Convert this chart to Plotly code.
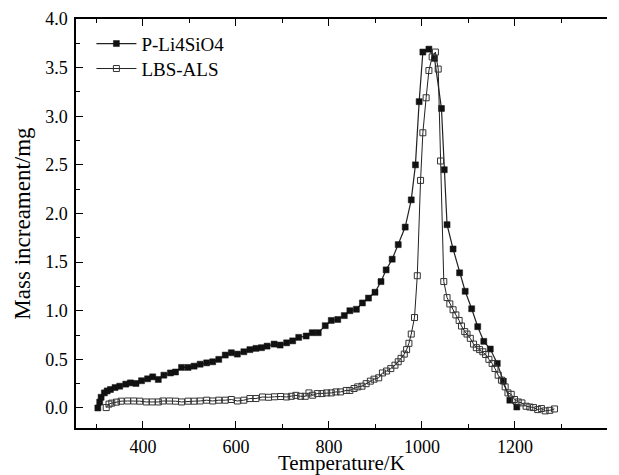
import plotly.graph_objects as go

# P-Li4SiO4 (filled squares)
t_p = [303, 307, 310, 317, 323, 330, 340, 350, 363, 373, 385, 397, 410, 421, 433, 445, 459, 470,
       483, 497, 510, 523, 537, 550, 563, 577, 590, 603, 617, 630, 643, 655, 667, 682, 695, 709,
       722, 735, 751, 764, 777, 792, 805, 819, 833, 845, 859, 872, 885, 899, 912, 923, 936, 949,
       964, 977, 986, 994, 1002, 1015, 1027, 1042, 1048, 1054, 1067, 1081, 1093, 1107, 1120, 1133,
       1147, 1162, 1175, 1189, 1204]
m_p = [0.00, 0.06, 0.11, 0.155, 0.175, 0.19, 0.21, 0.224, 0.245, 0.258, 0.252, 0.28, 0.30, 0.32,
       0.293, 0.337, 0.36, 0.37, 0.417, 0.417, 0.43, 0.45, 0.464, 0.475, 0.50, 0.544, 0.568, 0.554,
       0.578, 0.60, 0.613, 0.62, 0.636, 0.657, 0.647, 0.67, 0.69, 0.726, 0.74, 0.774, 0.774, 0.846,
       0.90, 0.91, 0.95, 1.00, 1.015, 1.08, 1.13, 1.19, 1.30, 1.42, 1.53, 1.68, 1.86, 2.14, 2.50,
       3.15, 3.66, 3.69, 3.595, 3.08, 2.45, 1.885, 1.635, 1.39, 1.20, 1.02, 0.836, 0.685, 0.606,
       0.458, 0.276, 0.08, 0.01]

# LBS-ALS (open squares)
t_l = [321, 327, 333, 343, 353, 367, 380, 393, 407, 420, 433, 443, 457, 470, 483, 497, 510, 523,
       537, 550, 563, 577, 590, 603, 617, 630, 643, 657, 670, 683, 696, 709, 719, 729, 739, 749,
       757, 765, 775, 785, 795, 805, 815, 825, 837, 845, 854, 862, 871, 880, 889, 897, 907, 915,
       924, 933, 942, 949, 955, 962, 967, 972, 977, 984, 990, 997, 1002, 1009, 1015, 1022, 1029,
       1035, 1040, 1047, 1054, 1060, 1067, 1073, 1080, 1085, 1092, 1097, 1104, 1111, 1117, 1124,
       1131, 1137, 1144, 1151, 1157, 1164, 1171, 1179, 1185, 1192, 1199, 1207, 1215, 1224, 1232,
       1240, 1249, 1257, 1265, 1275, 1285]
m_l = [0.004, 0.04, 0.05, 0.06, 0.07, 0.072, 0.072, 0.07, 0.062, 0.062, 0.062, 0.072, 0.072, 0.07,
       0.062, 0.07, 0.07, 0.072, 0.08, 0.072, 0.08, 0.08, 0.087, 0.072, 0.08, 0.097, 0.097, 0.113,
       0.11, 0.115, 0.118, 0.113, 0.12, 0.13, 0.12, 0.12, 0.155, 0.131, 0.148, 0.148, 0.155, 0.155,
       0.165, 0.165, 0.18, 0.18, 0.20, 0.217, 0.224, 0.25, 0.276, 0.296, 0.31, 0.36, 0.38, 0.405,
       0.44, 0.475, 0.51, 0.554, 0.60, 0.665, 0.76, 0.93, 1.36, 2.34, 2.83, 3.19, 3.47, 3.61, 3.66,
       3.485, 2.54, 1.30, 1.135, 1.07, 1.01, 0.957, 0.90, 0.843, 0.785, 0.76, 0.716, 0.657, 0.62,
       0.60, 0.578, 0.55, 0.50, 0.458, 0.406, 0.337, 0.286, 0.217, 0.155, 0.14, 0.087, 0.062, 0.052,
       0.018, 0.01, 0.004, -0.017, -0.006, -0.03, -0.024, -0.01]

X_TITLE = "Temperature/K"
Y_TITLE = "Mass increament/mg"
FONT = "Liberation Serif"

fig = go.Figure()
fig.add_trace(go.Scatter(
    x=t_p, y=m_p, name="P-Li4SiO4", mode="lines+markers", legend="legend",
    line=dict(color="#222222", width=1.2),
    marker=dict(symbol="square", size=6, color="#111111", line=dict(color="#111111", width=0.5)),
))
fig.add_trace(go.Scatter(
    x=t_l, y=m_l, name="LBS-ALS", mode="lines+markers", legend="legend2",
    line=dict(color="#222222", width=1),
    marker=dict(symbol="square-open", size=6, color="#333333", line=dict(width=1)),
))

leg_common = dict(xanchor="left", yanchor="top", bgcolor="rgba(0,0,0,0)",
                  font=dict(family=FONT, size=19), itemwidth=40)
fig.update_layout(
    template="none",
    width=619, height=475,
    margin=dict(l=68, r=20, t=11, b=55, autoexpand=False),
    paper_bgcolor="white", plot_bgcolor="white",
    font=dict(family=FONT, size=18, color="black"),
    showlegend=True,
    legend=dict(x=0.029, y=0.986, **leg_common),
    legend2=dict(x=0.029, y=0.925, **leg_common),
    annotations=[dict(text=X_TITLE, xref="paper", yref="paper", x=0.5, y=-0.086,
                      xanchor="center", yanchor="middle", showarrow=False,
                      font=dict(family=FONT, size=21))],
)
fig.update_xaxes(
    automargin=False,
    range=[256, 1398], showgrid=False, zeroline=False,
    showline=True, linecolor="black", linewidth=1.5, mirror="ticks",
    ticks="inside", ticklen=7, tickwidth=1.2, tickcolor="black",
    tick0=400, dtick=200, ticklabelstandoff=2,
    minor=dict(ticks="inside", ticklen=4, dtick=100, tick0=300, tickcolor="black", tickwidth=1.2),
    tickfont=dict(family=FONT, size=18),
)
fig.update_yaxes(
    automargin=False,
    range=[-0.206, 4.0], showgrid=False, zeroline=False,
    showline=True, linecolor="black", linewidth=1.5,
    ticks="inside", ticklen=7, tickwidth=1.2, tickcolor="black",
    tick0=0, dtick=0.5, tickformat=".1f", ticklabelstandoff=3,
    minor=dict(ticks="inside", ticklen=4, dtick=0.25, tickcolor="black", tickwidth=1.2),
    tickfont=dict(family=FONT, size=18),
    title=dict(text=Y_TITLE, font=dict(family=FONT, size=23), standoff=8),
)

fig.write_html("out.html")
